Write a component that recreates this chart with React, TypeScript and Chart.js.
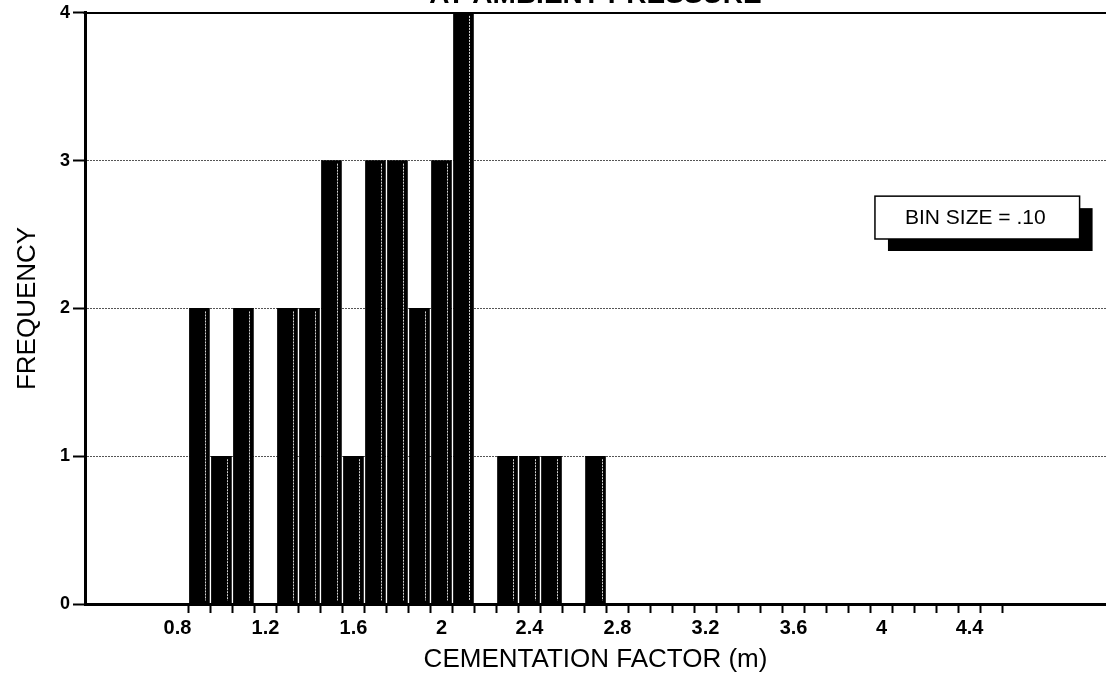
import React, { useEffect, useRef } from "react";
import { Chart, registerables } from "chart.js";

Chart.register(...registerables);

// ---- data ----
const BIN_CENTERS = [0.9, 1.0, 1.1, 1.2, 1.3, 1.4, 1.5, 1.6, 1.7, 1.8, 1.9, 2.0, 2.1, 2.2, 2.3, 2.4, 2.5, 2.6, 2.7];
const FREQUENCY = [2, 1, 2, 0, 2, 2, 3, 1, 3, 3, 2, 3, 4, 0, 1, 1, 1, 0, 1];

const X_LABEL_VALUES = [0.8, 1.2, 1.6, 2.0, 2.4, 2.8, 3.2, 3.6, 4.0, 4.4];
const X_LABEL_TEXT = ["0.8", "1.2", "1.6", "2", "2.4", "2.8", "3.2", "3.6", "4", "4.4"];
const X_MINOR_TICKS = [
  0.85, 0.95, 1.05, 1.15, 1.25, 1.35, 1.45, 1.55, 1.65, 1.75, 1.85, 1.95, 2.05,
  2.15, 2.25, 2.35, 2.45, 2.55, 2.65, 2.75, 2.85, 2.95, 3.05, 3.15, 3.25, 3.35,
  3.45, 3.55, 3.65, 3.75, 3.85, 3.95, 4.05, 4.15, 4.25, 4.35, 4.45, 4.55,
];
const Y_TICKS = [0, 1, 2, 3, 4];

const TITLE = "AT AMBIENT PRESSURE";
const X_TITLE = "CEMENTATION FACTOR (m)";
const Y_TITLE = "FREQUENCY";
const NOTE_TEXT = "BIN SIZE = .10";

const FONT = "'Liberation Sans', Arial, Helvetica, sans-serif";

const isLabelTick = (v: number) => X_LABEL_VALUES.some((l) => Math.abs(l - v) < 1e-6);

const decorPlugin = {
  id: "decor",
  afterDatasetsDraw(chart: any) {
    const ctx = chart.ctx;
    const meta = chart.getDatasetMeta(0);
    ctx.save();
    meta.data.forEach((bar: any, i: number) => {
      if (!FREQUENCY[i]) return;
      const { x, y, base, width } = bar.getProps(["x", "y", "base", "width"], true);
      const lx = Math.round(x + width / 2 - 4) + 0.5;
      ctx.strokeStyle = "rgba(235,235,235,0.9)";
      ctx.lineWidth = 1;
      ctx.setLineDash([2, 1]);
      ctx.beginPath();
      ctx.moveTo(lx, y + 3);
      ctx.lineTo(lx, base - 3);
      ctx.stroke();
    });
    ctx.restore();
  },
  afterDraw(chart: any) {
    const ctx = chart.ctx;
    const { left, right, top } = chart.chartArea;
    const xs = chart.scales.x;
    const ys = chart.scales.y;
    ctx.save();
    // top frame line
    ctx.strokeStyle = "#000";
    ctx.lineWidth = 2;
    ctx.setLineDash([]);
    ctx.beginPath();
    ctx.moveTo(left - 1.5, top);
    ctx.lineTo(right, top);
    ctx.stroke();

    // title (partly cut off at top)
    ctx.fillStyle = "#000";
    ctx.font = `bold 28px ${FONT}`;
    ctx.textAlign = "center";
    ctx.textBaseline = "alphabetic";
    ctx.fillText(TITLE, (left + right) / 2, 3);

    // note box with shadow
    const bx1 = xs.getPixelForValue(3.97);
    const bx2 = xs.getPixelForValue(4.9);
    const by1 = ys.getPixelForValue(2.76);
    const by2 = ys.getPixelForValue(2.47);
    ctx.fillStyle = "#000";
    ctx.fillRect(bx1 + 13, by1 + 12, bx2 - bx1, by2 - by1);
    ctx.fillStyle = "#fff";
    ctx.fillRect(bx1, by1, bx2 - bx1, by2 - by1);
    ctx.strokeStyle = "#000";
    ctx.lineWidth = 1.5;
    ctx.strokeRect(bx1, by1, bx2 - bx1, by2 - by1);
    ctx.fillStyle = "#000";
    ctx.font = `21px ${FONT}`;
    ctx.textAlign = "center";
    ctx.textBaseline = "middle";
    ctx.fillText(NOTE_TEXT, (bx1 + bx2) / 2 - 2, (by1 + by2) / 2 + 1);
    ctx.restore();
  },
};

export default function App() {
  const ref = useRef<HTMLCanvasElement | null>(null);

  useEffect(() => {
    document.body.style.margin = "0";
    if (!ref.current) return;
    const chart = new Chart(ref.current, {
      type: "bar",
      data: {
        datasets: [
          {
            data: BIN_CENTERS.map((x, i) => ({ x, y: FREQUENCY[i] })),
            backgroundColor: "#000",
            borderWidth: 0,
            barThickness: 20,
          },
        ],
      },
      plugins: [decorPlugin],
      options: {
        responsive: false,
        animation: false,
        devicePixelRatio: 1,
        layout: { padding: { top: 11, left: 0, right: 0, bottom: 0 } },
        plugins: {
          legend: { display: false },
          tooltip: { enabled: false },
          title: { display: false },
        },
        scales: {
          x: {
            type: "linear",
            offset: false,
            min: 0.38,
            max: 5.02,
            afterBuildTicks: (scale: any) => {
              const vals = [...X_LABEL_VALUES, ...X_MINOR_TICKS].sort((a, b) => a - b);
              scale.ticks = vals.map((value) => ({ value }));
            },
            afterFit: (scale: any) => {
              scale.height = 71;
            },
            ticks: {
              autoSkip: false,
              maxRotation: 0,
              minRotation: 0,
              padding: 3,
              color: "#000",
              font: { family: FONT, size: 20, weight: "bold" },
              callback: (value: any) => {
                const idx = X_LABEL_VALUES.findIndex((l) => Math.abs(l - value) < 1e-6);
                return idx >= 0 ? X_LABEL_TEXT[idx] : "";
              },
            },
            grid: {
              offset: false,
              drawOnChartArea: false,
              drawTicks: true,
              tickLength: 9,
              tickWidth: 2,
              tickColor: (c: any) => (c.tick && isLabelTick(c.tick.value) ? "rgba(0,0,0,0)" : "#000"),
            },
            border: { display: true, color: "#000", width: 3 },
            title: {
              display: true,
              text: X_TITLE,
              color: "#000",
              font: { family: FONT, size: 26, weight: "normal" },
              padding: { top: 0, bottom: 0 },
            },
          },
          y: {
            type: "linear",
            min: 0,
            max: 4,
            afterBuildTicks: (scale: any) => {
              scale.ticks = Y_TICKS.map((value) => ({ value }));
            },
            afterFit: (scale: any) => {
              scale.width = 85;
            },
            ticks: {
              padding: 3,
              color: "#000",
              font: { family: FONT, size: 18, weight: "bold", lineHeight: 1.1 },
              callback: (value: any) => String(value),
            },
            grid: {
              drawTicks: true,
              tickLength: 12,
              tickWidth: 2,
              tickColor: "#000",
              lineWidth: 1,
              color: (c: any) =>
                c.tick && c.tick.value > 0 && c.tick.value < 4 ? "#555" : "rgba(0,0,0,0)",
            },
            border: { display: true, color: "#000", width: 3, dash: [2, 1] },
            title: {
              display: true,
              text: Y_TITLE,
              color: "#000",
              font: { family: FONT, size: 26, weight: "normal" },
              padding: { top: 12, bottom: 0 },
            },
          },
        },
      } as any,
    });
    return () => chart.destroy();
  }, []);

  return (
    <div style={{ width: 1106, height: 675, background: "#fff" }}>
      <canvas ref={ref} width={1106} height={675} style={{ display: "block" }} />
    </div>
  );
}
